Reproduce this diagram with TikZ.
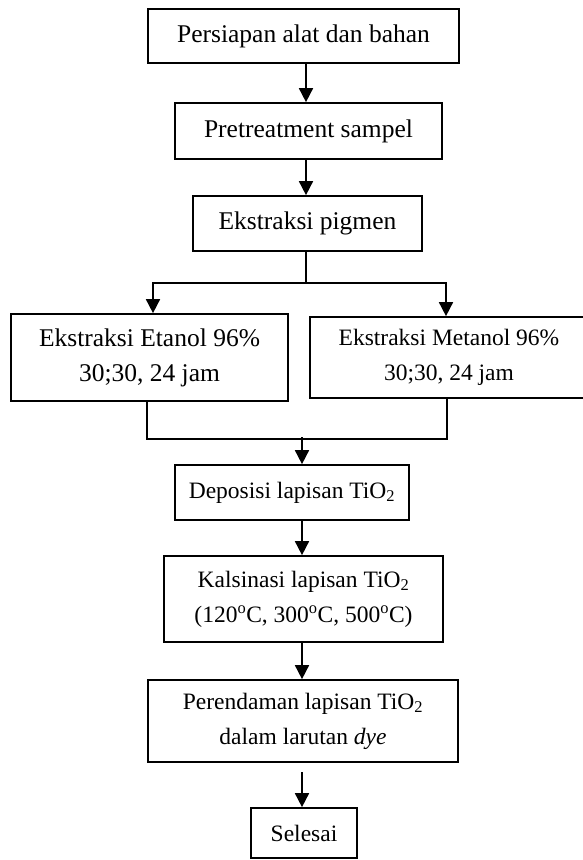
\documentclass[tikz,border=0pt]{standalone}
\usepackage{fontspec}
\setmainfont{Liberation Serif}
\usetikzlibrary{arrows.meta}
\begin{document}
\begin{tikzpicture}[x=1pt,y=-1pt,
  box/.style={draw,line width=1.7pt,inner sep=0pt,align=center,font=\fontsize{25.5}{35}\selectfont},
  smallbox/.style={box,font=\fontsize{23.5}{35}\selectfont},
  arr/.style={line width=1.7pt,-{Triangle[length=14pt,width=14pt]}},
  ln/.style={line width=1.7pt}]
\useasboundingbox (0,0) rectangle (583,860);
% boxes
\node[box,minimum width=311pt,minimum height=54pt] (b1) at (303.5,36) {Persiapan alat dan bahan};
\node[box,minimum width=267pt,minimum height=56pt] (b2) at (308.5,131) {Pretreatment sampel};
\node[box,minimum width=229pt,minimum height=55pt] (b3) at (307.5,223.5) {Ekstraksi pigmen};
\node[box,minimum width=277pt,minimum height=87pt] (bl) at (149.5,357.5) {Ekstraksi Etanol 96\%\\30;30, 24 jam};
\node[smallbox,minimum width=278pt,minimum height=81pt] (br) at (449,357.5) {Ekstraksi Metanol 96\%\\30;30, 24 jam};
\node[smallbox,minimum width=234pt,minimum height=55pt] (b4) at (292,492.5) {Deposisi lapisan TiO\textsubscript{2}};
\node[smallbox,minimum width=279pt,minimum height=86pt] (b5) at (303.5,599) {Kalsinasi lapisan TiO\textsubscript{2}\\(120\textsuperscript{o}C, 300\textsuperscript{o}C, 500\textsuperscript{o}C)};
\node[smallbox,minimum width=310pt,minimum height=82pt] (b6) at (303,721) {Perendaman lapisan TiO\textsubscript{2}\\dalam larutan \textit{dye}};
\node[smallbox,minimum width=106pt,minimum height=50pt] (b7) at (304,833) {Selesai};
% helper coordinates
\coordinate (cx1) at (306,0);
\coordinate (sL) at (153,283);
\coordinate (sR) at (446,283);
\coordinate (mL) at (147,439);
\coordinate (mR) at (447,439);
\coordinate (cx2) at (302,437);
\coordinate (g) at (302,772);
% connectors
\draw[arr] (b1.south -| cx1) -- (b2.north -| cx1);
\draw[arr] (b2.south -| cx1) -- (b3.north -| cx1);
\draw[ln] (b3.south -| cx1) -- (cx1 |- sL);
\draw[arr] (cx1 |- sL) -- (sL) -- (sL |- bl.north);
\draw[arr] (cx1 |- sR) -- (sR) -- (sR |- br.north);
\draw[ln] (bl.south -| mL) -- (mL) -- (mR) -- (br.south -| mR);
\draw[arr] (cx2) -- (cx2 |- b4.north);
\draw[arr] (b4.south -| cx2) -- (b5.north -| cx2);
\draw[arr] (b5.south -| cx2) -- (b6.north -| cx2);
\draw[arr] (g) -- (g |- b7.north);
\end{tikzpicture}
\end{document}
